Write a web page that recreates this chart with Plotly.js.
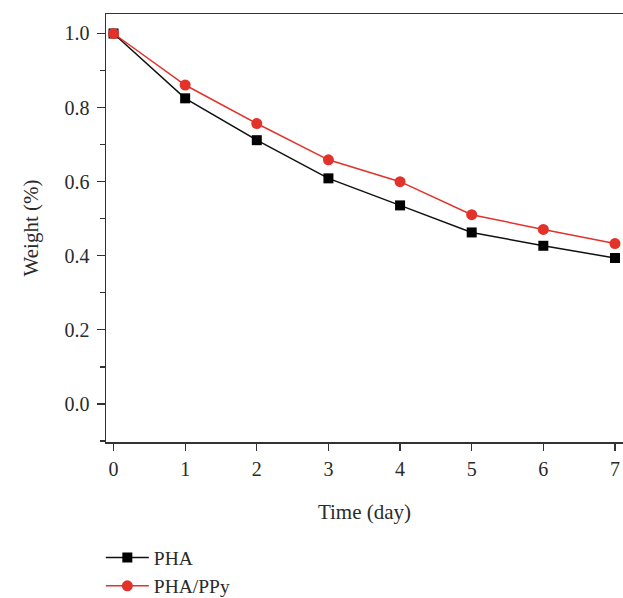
<!DOCTYPE html>
<html>
<head>
<meta charset="utf-8">
<script src="https://cdn.plot.ly/plotly-3.0.1.min.js"></script>
<style>html,body{margin:0;padding:0;background:#fff;}#chart{width:623px;height:598px;}</style>
</head>
<body>
<div id="chart"></div>
<script>
var days = [0, 1, 2, 3, 4, 5, 6, 7];
var phaWeight = [1.0, 0.825, 0.712, 0.609, 0.536, 0.463, 0.427, 0.394];
var phaPpyWeight = [1.0, 0.861, 0.757, 0.659, 0.600, 0.511, 0.471, 0.433];
var seriesNames = ["PHA", "PHA/PPy"];

var font = "Liberation Serif, Times New Roman, serif";
var txt = "#2a2a2a";
var red = "#e2322a";

var traces = [
  {
    x: days, y: phaWeight, name: seriesNames[0], type: "scatter", mode: "lines+markers",
    line: {color: "#111", width: 1.5},
    marker: {symbol: "square", size: 10, color: "#000"}
  },
  {
    x: days, y: phaPpyWeight, name: seriesNames[1], type: "scatter", mode: "lines+markers",
    line: {color: red, width: 1.5},
    marker: {symbol: "circle", size: 11, color: red}
  }
];

var layout = {
  width: 623, height: 598,
  margin: {l: 106, r: 0, t: 14, b: 156, autoexpand: false},
  paper_bgcolor: "#fff", plot_bgcolor: "#fff",
  font: {family: font, size: 20, color: txt},
  showlegend: true,
  legend: {x: -0.01, xanchor: "left", y: -0.225, yanchor: "top", orientation: "v", itemwidth: 43,
           maxheight: 400,
           borderwidth: 0, font: {family: font, size: 19.5, color: txt}, bgcolor: "rgba(0,0,0,0)", tracegroupgap: 0},
  xaxis: {
    range: [-0.105, 7.112], tickmode: "array", tickvals: days, ticktext: days.map(String),
    showgrid: false, zeroline: false, showline: true, linecolor: "#333", linewidth: 1.5,
    mirror: true, ticks: "outside", ticklen: 7, tickwidth: 1.2, tickcolor: "#333",
    ticklabelstandoff: 1, automargin: false,
    tickfont: {family: font, size: 20, color: txt},
    title: {text: "Time (day)", font: {family: font, size: 21, color: txt}, standoff: 26}
  },
  yaxis: {
    range: [-0.1026, 1.0526], tickmode: "array", tickvals: [0, 0.2, 0.4, 0.6, 0.8, 1.0],
    ticktext: ["0.0", "0.2", "0.4", "0.6", "0.8", "1.0"],
    showgrid: false, zeroline: false, showline: true, linecolor: "#333", linewidth: 1.5,
    ticks: "outside", ticklen: 8, tickwidth: 1.2, tickcolor: "#333",
    ticklabelstandoff: 3, automargin: false,
    minor: {ticks: "outside", ticklen: 5, tickwidth: 1.2, tickcolor: "#333", dtick: 0.1, tick0: 0, showgrid: false},
    tickfont: {family: font, size: 20, color: txt},
    title: {text: "Weight (%)", font: {family: font, size: 21, color: txt}, standoff: 20}
  }
};

Plotly.newPlot("chart", traces, layout, {displayModeBar: false, staticPlot: true});
</script>
</body>
</html>
